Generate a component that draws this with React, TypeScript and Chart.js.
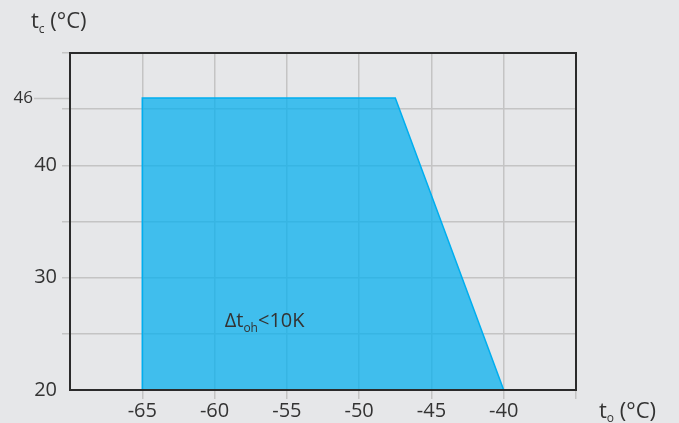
import React, { useEffect, useRef } from 'react';
import { Chart, registerables } from 'chart.js';

Chart.register(...registerables);

// Operating envelope (evaporating t_o vs condensing t_c)
const envelopeTo = [-65, -65, -47.5, -40];
const envelopeTc = [20, 46, 46, 20];

const xRange = [-70, -35];
const yRange = [20, 50];
const xHiddenTicks = [-70, -35];
const yTickLabels = [20, 30, 40];
const markTc = 46;
const noteAt = [-59.3, 26.2];

const FONT = '"Open Sans", "DejaVu Sans", sans-serif';
const TEXT = '#333333';
const GRID = '#c4c4c4';

type Part = [string, number, number];

function drawParts(ctx: CanvasRenderingContext2D, x: number, base: number, parts: Part[]) {
  let cx = x;
  for (const [t, size, dy] of parts) {
    ctx.font = `${size}px ${FONT}`;
    ctx.fillText(t, cx, base + dy);
    cx += ctx.measureText(t).width;
  }
}

const decorPlugin = {
  id: 'decor',
  beforeDraw(chart: any) {
    const ctx = chart.ctx;
    ctx.save();
    ctx.fillStyle = '#e6e7e9';
    ctx.fillRect(0, 0, chart.width, chart.height);
    ctx.restore();
  },
  afterDatasetsDraw(chart: any) {
    const ctx = chart.ctx as CanvasRenderingContext2D;
    const { left, right, top, bottom } = chart.chartArea;
    const xs = chart.scales.x;
    const ys = chart.scales.y;
    ctx.save();
    // plot frame
    ctx.strokeStyle = '#2b2b2b';
    ctx.lineWidth = 2;
    ctx.strokeRect(left, top, right - left, bottom - top);

    // 46 marker
    const y46 = Math.round(ys.getPixelForValue(markTc)) + 0.5;
    ctx.strokeStyle = GRID;
    ctx.lineWidth = 1.5;
    ctx.beginPath();
    ctx.moveTo(34, y46);
    ctx.lineTo(left - 1, y46);
    ctx.stroke();
    ctx.fillStyle = TEXT;
    ctx.font = `17px ${FONT}`;
    ctx.textAlign = 'right';
    ctx.textBaseline = 'middle';
    ctx.fillText(String(markTc), 33, y46);

    // axis titles
    ctx.textAlign = 'left';
    ctx.textBaseline = 'alphabetic';
    drawParts(ctx, 31, 28, [['t', 22, 0], ['c', 12, 5], [' (°C)', 22, 0]]);
    drawParts(ctx, 599, 418, [['t', 22, 0], ['o', 12, 4], [' (°C)', 22, 0]]);

    // note
    const nx = xs.getPixelForValue(noteAt[0]);
    const ny = ys.getPixelForValue(noteAt[1]);
    drawParts(ctx, nx, ny + 7, [['Δt', 20, 0], ['oh', 12, 5], ['<10K', 20, 0]]);
    ctx.restore();
  },
};

export default function App() {
  const ref = useRef<HTMLCanvasElement | null>(null);
  useEffect(() => {
    document.body.style.margin = '0';
    document.body.style.background = '#e6e7e9';
    const chart = new Chart(ref.current as HTMLCanvasElement, {
      type: 'scatter',
      data: {
        datasets: [
          {
            data: envelopeTo.map((x, i) => ({ x, y: envelopeTc[i] })),
            showLine: true,
            fill: 'start',
            backgroundColor: 'rgba(0,174,239,0.72)',
            borderColor: '#00aeef',
            borderWidth: 1.5,
            pointRadius: 0,
            tension: 0,
          },
        ],
      },
      options: {
        animation: false,
        responsive: true,
        maintainAspectRatio: false,
        layout: { padding: { top: 53, right: 103, left: 0, bottom: 0 } },
        plugins: { legend: { display: false }, tooltip: { enabled: false } },
        scales: {
          x: {
            type: 'linear',
            min: xRange[0],
            max: xRange[1],
            border: { display: false },
            grid: {
              color: (c: any) => (c.tick && c.tick.value === xRange[0] ? 'rgba(0,0,0,0)' : GRID),
              lineWidth: 1.5,
              tickLength: 9,
            },
            ticks: {
              stepSize: 5,
              padding: 0,
              color: TEXT,
              font: { family: FONT, size: 20 },
              callback: (v: any) => (xHiddenTicks.includes(Number(v)) ? '' : String(v)),
            },
            afterFit: (s: any) => {
              s.height = 33;
            },
          },
          y: {
            type: 'linear',
            min: yRange[0],
            max: yRange[1],
            border: { display: false },
            grid: {
              color: (c: any) => (c.tick && c.tick.value === yRange[0] ? 'rgba(0,0,0,0)' : GRID),
              lineWidth: 1.5,
              tickLength: 8,
            },
            ticks: {
              stepSize: 5,
              padding: 5,
              color: TEXT,
              font: { family: FONT, size: 20 },
              callback: (v: any) => (yTickLabels.includes(Number(v)) ? String(v) : ''),
            },
            afterFit: (s: any) => {
              s.width = 70;
            },
          },
        },
      },
      plugins: [decorPlugin],
    });
    return () => chart.destroy();
  }, []);
  return (
    <div style={{ position: 'fixed', left: 0, top: 0, width: 679, height: 423, background: '#e6e7e9' }}>
      <canvas ref={ref} />
    </div>
  );
}
